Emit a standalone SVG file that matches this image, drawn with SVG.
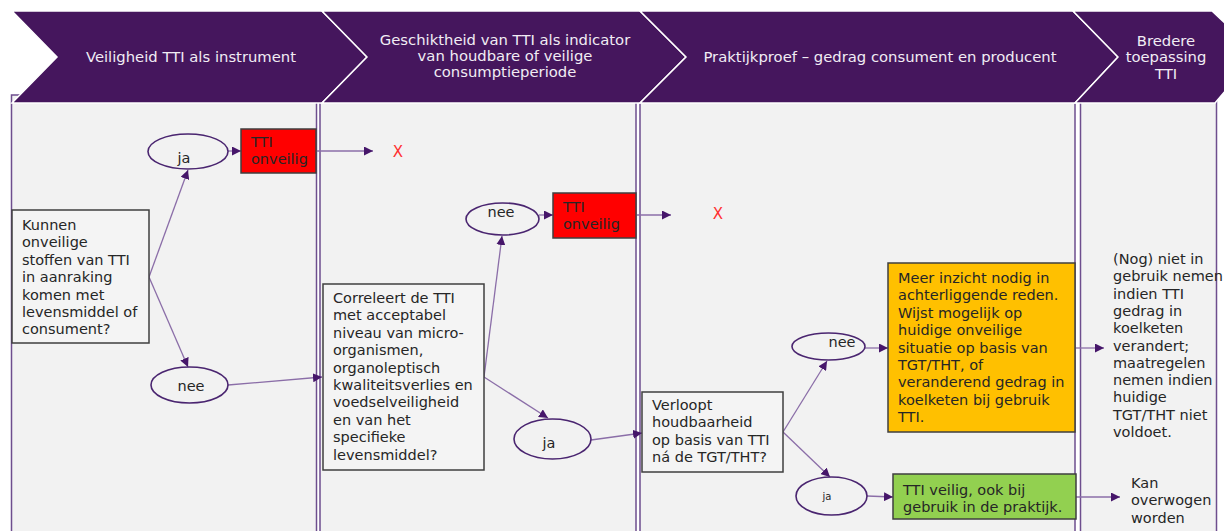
<svg xmlns="http://www.w3.org/2000/svg" width="1224" height="531" viewBox="0 0 1224 531">
<style>
text{font-family:"DejaVu Sans","Verdana",sans-serif;font-size:14.5px;fill:#262626}
.hd{fill:#45165D;stroke:#ffffff;stroke-width:1.5}
.ht{fill:#F1ECF4;font-size:14.8px;text-anchor:middle}
.col{fill:#F2F2F2;stroke:#6E4E8E;stroke-width:1.5}
.box{stroke:#3F3F3F;stroke-width:1.5}
.ell{fill:#F2F2F2;stroke:#4A2570;stroke-width:1.6}
.ln{stroke:#8B6EA8;stroke-width:1.3;fill:none;marker-end:url(#ah)}
.x{fill:#FF3030;font-size:15px;text-anchor:middle}
.c{text-anchor:middle}
</style>
<defs>
<marker id="ah" viewBox="0 0 10 10" refX="10" refY="5" markerWidth="9" markerHeight="9" markerUnits="userSpaceOnUse" orient="auto">
<path d="M0,0 L10,5 L0,10 z" fill="#46166A"/>
</marker>
</defs>
<rect width="1224" height="531" fill="#ffffff"/>
<g id="columns">
<rect class="col" x="11.5" y="95" width="305" height="445"/>
<rect class="col" x="320" y="95" width="316" height="445"/>
<rect class="col" x="640" y="95" width="435" height="445"/>
<rect class="col" x="1080.5" y="95" width="136" height="445"/>
</g>
<g id="header">
<polygon class="hd" points="12,11 322,11 367,57 322,103 12,103 57,57"/>
<polygon class="hd" points="322,11 640,11 686,57 640,103 322,103 367,57"/>
<polygon class="hd" points="640,11 1073,11 1118,57 1075,103 640,103 686,57"/>
<polygon class="hd" points="1073,11 1212,11 1226,24 1226,90 1215,103 1075,103 1118,57"/>
<text class="ht" x="191" y="62">Veiligheid TTI als instrument</text>
<text class="ht" x="505" y="45">Geschiktheid van TTI als indicator</text>
<text class="ht" x="505" y="61">van houdbare of veilige</text>
<text class="ht" x="505" y="77">consumptieperiode</text>
<text class="ht" x="880" y="62">Praktijkproef – gedrag consument en producent</text>
<text class="ht" x="1166" y="46">Bredere</text>
<text class="ht" x="1166" y="62">toepassing</text>
<text class="ht" x="1166" y="79">TTI</text>
</g>
<g id="connectors">
<line class="ln" x1="149" y1="277" x2="188" y2="170"/>
<line class="ln" x1="149" y1="277" x2="188" y2="367"/>
<line class="ln" x1="228" y1="151" x2="241" y2="151"/>
<line class="ln" x1="316" y1="151" x2="373" y2="151"/>
<line class="ln" x1="228" y1="385" x2="322" y2="377"/>
<line class="ln" x1="484" y1="377" x2="502" y2="236"/>
<line class="ln" x1="484" y1="377" x2="548" y2="418"/>
<line class="ln" x1="539" y1="215" x2="553" y2="215"/>
<line class="ln" x1="636" y1="215" x2="671" y2="215"/>
<line class="ln" x1="591" y1="440" x2="642" y2="433"/>
<line class="ln" x1="783" y1="432" x2="827" y2="361"/>
<line class="ln" x1="783" y1="432" x2="830" y2="477"/>
<line class="ln" x1="865" y1="348" x2="888" y2="348"/>
<line class="ln" x1="867" y1="496" x2="893" y2="497"/>
<line class="ln" x1="1075" y1="348" x2="1104" y2="348"/>
<line class="ln" x1="1076" y1="497" x2="1120" y2="497"/>
</g>
<g id="q1">
<rect class="box" x="12" y="210" width="137" height="133" fill="#F4F4F4"/>
<text x="22" y="230">Kunnen</text>
<text x="22" y="247.4">onveilige</text>
<text x="22" y="264.8">stoffen van TTI</text>
<text x="22" y="282.2">in aanraking</text>
<text x="22" y="299.6">komen met</text>
<text x="22" y="317">levensmiddel of</text>
<text x="22" y="334.4">consument?</text>
</g>
<g id="ja1">
<ellipse class="ell" cx="188" cy="151.5" rx="40" ry="17.5"/>
<text class="c" x="184" y="163">ja</text>
</g>
<g id="onveilig1">
<rect class="box" x="241" y="129" width="75" height="44" fill="#FF0000"/>
<text x="251" y="147">TTI</text>
<text x="251" y="164">onveilig</text>
</g>
<g id="x1"><text class="x" x="398" y="157">X</text></g>
<g id="nee1">
<ellipse class="ell" cx="189.5" cy="385" rx="38.5" ry="18"/>
<text class="c" x="191" y="391">nee</text>
</g>
<g id="q2">
<rect class="box" x="323" y="284" width="161" height="186" fill="#F4F4F4"/>
<text x="333" y="303">Correleert de TTI</text>
<text x="333" y="320.4">met acceptabel</text>
<text x="333" y="337.8">niveau van micro-</text>
<text x="333" y="355.2">organismen,</text>
<text x="333" y="372.6">organoleptisch</text>
<text x="333" y="390">kwaliteitsverlies en</text>
<text x="333" y="407.4">voedselveiligheid</text>
<text x="333" y="424.8">en van het</text>
<text x="333" y="442.2">specifieke</text>
<text x="333" y="459.6">levensmiddel?</text>
</g>
<g id="nee2">
<ellipse class="ell" cx="502.5" cy="219" rx="36.5" ry="16"/>
<text class="c" x="501" y="217">nee</text>
</g>
<g id="onveilig2">
<rect class="box" x="553" y="193" width="83" height="45" fill="#FF0000"/>
<text x="563" y="212">TTI</text>
<text x="563" y="229">onveilig</text>
</g>
<g id="x2"><text class="x" x="718" y="219">X</text></g>
<g id="ja2">
<ellipse class="ell" cx="552.5" cy="439" rx="38.5" ry="20"/>
<text class="c" x="549" y="448">ja</text>
</g>
<g id="q3">
<rect class="box" x="642" y="392" width="141" height="80" fill="#F4F4F4"/>
<text x="652" y="410">Verloopt</text>
<text x="652" y="427.4">houdbaarheid</text>
<text x="652" y="444.8">op basis van TTI</text>
<text x="652" y="462.2">ná de TGT/THT?</text>
</g>
<g id="nee3">
<ellipse class="ell" cx="828.5" cy="346.5" rx="36.5" ry="13.5"/>
<text class="c" x="842" y="347">nee</text>
</g>
<g id="inzicht">
<rect class="box" x="888" y="263" width="187" height="169" fill="#FFC000"/>
<text x="898" y="283">Meer inzicht nodig in</text>
<text x="898" y="300.4">achterliggende reden.</text>
<text x="898" y="317.8">Wijst mogelijk op</text>
<text x="898" y="335.2">huidige onveilige</text>
<text x="898" y="352.6">situatie op basis van</text>
<text x="898" y="370">TGT/THT, of</text>
<text x="898" y="387.4">veranderend gedrag in</text>
<text x="898" y="404.8">koelketen bij gebruik</text>
<text x="898" y="422.2">TTI.</text>
</g>
<g id="ja3">
<ellipse class="ell" cx="831.5" cy="496" rx="35.5" ry="19"/>
<text class="c" x="827" y="500" style="font-size:10px">ja</text>
</g>
<g id="veilig">
<rect class="box" x="893" y="474" width="183" height="45" fill="#92D050"/>
<text x="903" y="495">TTI veilig, ook bij</text>
<text x="903" y="512">gebruik in de praktijk.</text>
</g>
<g id="nog">
<text x="1113" y="264">(Nog) niet in</text>
<text x="1113" y="281.3">gebruik nemen</text>
<text x="1113" y="298.6">indien TTI</text>
<text x="1113" y="315.9">gedrag in</text>
<text x="1113" y="333.2">koelketen</text>
<text x="1113" y="350.5">verandert;</text>
<text x="1113" y="367.8">maatregelen</text>
<text x="1113" y="385.1">nemen indien</text>
<text x="1113" y="402.4">huidige</text>
<text x="1113" y="419.7">TGT/THT niet</text>
<text x="1113" y="437">voldoet.</text>
</g>
<g id="kan">
<text x="1131" y="488">Kan</text>
<text x="1131" y="505.4">overwogen</text>
<text x="1131" y="522.8">worden</text>
</g>
</svg>
